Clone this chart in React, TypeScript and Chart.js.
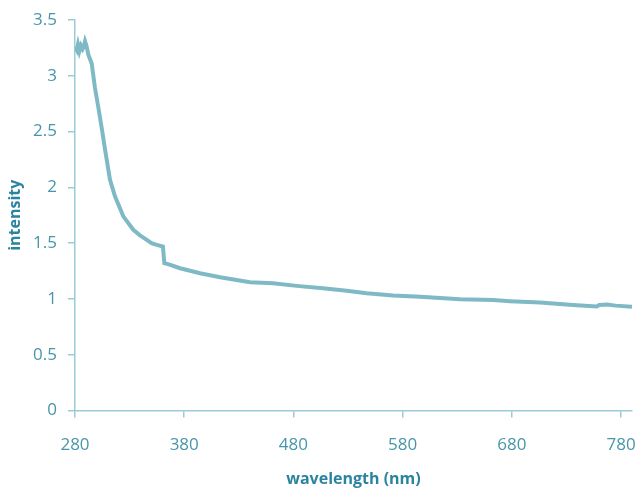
import React, { useEffect, useRef } from "react";
import { Chart, registerables } from "chart.js";

Chart.register(...registerables);

const wavelength = [
  280, 281.6, 282.7, 284, 285.5, 287, 288, 289.2, 290.5, 292.2, 295.3, 298.3,
  301.3, 304.5, 307.5, 312, 316.6, 324.2, 333.4, 339.5, 345.7, 350, 355, 360.5,
  361.8, 366, 376.2, 394.5, 412.8, 428, 440.3, 461.3, 483, 507, 528.8, 547,
  571.2, 596, 632.6, 662.8, 678.3, 705.8, 736, 757.7, 760, 767, 775, 790,
];
const intensity = [
  3.26, 3.23, 3.28, 3.22, 3.27, 3.24, 3.26, 3.31, 3.27, 3.19, 3.11, 2.89, 2.72,
  2.53, 2.34, 2.07, 1.92, 1.74, 1.62, 1.57, 1.53, 1.5, 1.485, 1.47, 1.32, 1.31,
  1.275, 1.23, 1.195, 1.17, 1.15, 1.14, 1.117, 1.096, 1.074, 1.05, 1.03, 1.02,
  0.997, 0.99, 0.98, 0.967, 0.946, 0.932, 0.945, 0.95, 0.94, 0.93,
];
const xTicks = [280, 380, 480, 580, 680, 780];
const yTicks = [0, 0.5, 1, 1.5, 2, 2.5, 3, 3.5];
const xTitle = "wavelength (nm)";
const yTitle = "intensity";

const lineColor = "#7fb9c6";
const axisColor = "#9ccbd6";
const tickColor = "#4896ab";
const titleColor = "#2a84a0";

export default function App() {
  const ref = useRef<HTMLCanvasElement>(null);
  useEffect(() => {
    document.body.style.margin = "0";
    const ctx = ref.current!.getContext("2d")!;
    const chart = new Chart(ctx, {
      type: "line",
      data: {
        datasets: [
          {
            data: wavelength.map((x, i) => ({ x, y: intensity[i] })),
            borderColor: lineColor,
            borderWidth: 4,
            pointRadius: 0,
            tension: 0,
            fill: false,
          },
        ],
      },
      options: {
        animation: false,
        responsive: false,
        maintainAspectRatio: false,
        layout: { padding: { top: 20, right: 5, left: 0, bottom: 0 } },
        plugins: { legend: { display: false }, tooltip: { enabled: false } },
        scales: {
          x: {
            type: "linear",
            min: 280,
            max: 790,
            afterBuildTicks: (s: any) => {
              s.ticks = xTicks.map((v) => ({ value: v }));
            },
            afterFit: (s: any) => {
              s.height = 81.5;
              s.paddingLeft = 0;
              s.paddingRight = 0;
            },
            grid: {
              drawOnChartArea: false,
              drawTicks: true,
              tickLength: 7,
              color: axisColor,
              lineWidth: 1.5,
            },
            border: { color: axisColor, width: 1.5 },
            ticks: {
              color: tickColor,
              font: { family: "Open Sans", size: 17 },
              padding: 17,
              maxRotation: 0,
            },
            title: {
              display: true,
              text: xTitle,
              color: titleColor,
              font: { family: "Open Sans", size: 16, weight: "bold" },
              padding: { top: 0, bottom: 3 },
            },
          },
          y: {
            min: 0,
            max: 3.5,
            afterBuildTicks: (s: any) => {
              s.ticks = yTicks.map((v) => ({ value: v }));
            },
            afterFit: (s: any) => {
              s.width = 75;
              s.paddingTop = 0;
              s.paddingBottom = 0;
            },
            grid: {
              drawOnChartArea: false,
              drawTicks: true,
              tickLength: 7,
              color: axisColor,
              lineWidth: 1.5,
            },
            border: { color: axisColor, width: 1.5 },
            ticks: {
              color: tickColor,
              font: { family: "Open Sans", size: 17 },
              padding: 11,
              callback: (v: any) => String(v),
            },
            title: {
              display: true,
              text: yTitle,
              color: titleColor,
              font: { family: "Open Sans", size: 16, weight: "bold" },
              padding: { top: 6, bottom: 0 },
            },
          },
        },
      },
    });
    return () => chart.destroy();
  }, []);
  return (
    <div style={{ width: 637, height: 492, position: "relative" }}>
      <canvas ref={ref} width={637} height={492} style={{ width: 637, height: 492 }} />
    </div>
  );
}
